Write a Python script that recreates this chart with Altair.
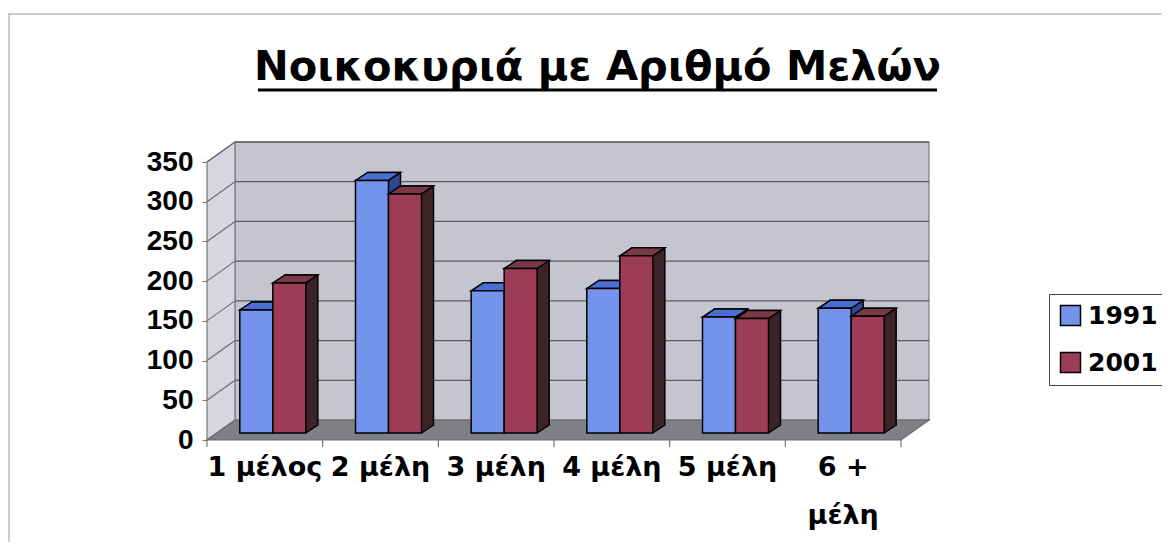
import altair as alt
import pandas as pd

# ---------------- data ----------------
CATS = ["1 μέλος", "2 μέλη", "3 μέλη", "4 μέλη", "5 μέλη", "6 + μέλη"]
YEARS = ["1991", "2001"]
V1991 = [155, 318, 179, 182, 146, 157]
V2001 = [189, 301, 207, 223, 144, 147]
YTICKS = [0, 50, 100, 150, 200, 250, 300, 350]
TITLE = "Νοικοκυριά με Αριθμό Μελών"

# ---------------- geometry / style ----------------
W, H = 694, 278
DX, DY = 28, 20        # depth of the walls (px)
BDX, BDY = 12, 8       # depth of each bar (px)
BASE = 7               # bars stand a bit behind the front edge of the floor
BW = 33                # bar width
SHIFT = 8              # perspective shift of the bar groups
STEP = W / len(CATS)
FONT = "Liberation Sans"
WFONT = "DejaVu Sans"

FRONT = {"1991": "#7394ea", "2001": "#9c3c57"}
TOPC = {"1991": "#4a6fd4", "2001": "#7a3848"}
SIDE = {"1991": "#2f4596", "2001": "#3b2328"}

rows = []
for c, a, b in zip(CATS, V1991, V2001):
    rows.append({"cat": c, "year": "1991", "value": a})
    rows.append({"cat": c, "year": "2001", "value": b})
df = pd.DataFrame(rows)
ticks_df = pd.DataFrame({"tick": YTICKS})
cats_df = pd.DataFrame({"cat": CATS})
one = pd.DataFrame({"t": [TITLE]})

Y_SCALE = alt.Scale(domain=[0, 350], nice=False, zero=True)
YAXIS = alt.Axis(values=YTICKS, title=None, labelFont=FONT, labelFontSize=28,
                 labelFontWeight="bold", labelColor="black", tickColor="#777777",
                 tickSize=5, labelPadding=9, domainColor="#777777", grid=False)
XAXIS = alt.Axis(title=None, labelAngle=0, labelFont=WFONT, labelFontSize=27,
                 labelFontWeight="bold", labelColor="black", ticks=False, domain=False,
                 labelPadding=14, labelLineHeight=48, labelOverlap=False,
                 labelExpr="datum.label == '6 + μέλη' ? ['6 +', 'μέλη'] : datum.label")


def xenc():
    return alt.X("cat:N", sort=CATS,
                 scale=alt.Scale(domain=CATS, paddingInner=0, paddingOuter=0),
                 axis=XAXIS)


def yenc(field="value"):
    return alt.Y(f"{field}:Q", scale=Y_SCALE, axis=YAXIS)


# ---------------- decorations ----------------
border_top = alt.Chart(one).mark_rule(color="#bdbdbd", strokeWidth=1.5).encode(
    x=alt.value(-199), x2=alt.value(963), y=alt.value(-148))
border_left = alt.Chart(one).mark_rule(color="#bdbdbd", strokeWidth=1.5).encode(
    x=alt.value(-198), y=alt.value(-148), y2=alt.value(380))

title = alt.Chart(one).mark_text(font=WFONT, fontSize=41.5, fontWeight="bold",
                                 align="center", baseline="alphabetic",
                                 color="black").encode(
    text="t:N", x=alt.value(390.5), y=alt.value(-82))
underline = alt.Chart(one).mark_rule(color="black", strokeWidth=3).encode(
    x=alt.value(51), x2=alt.value(730), y=alt.value(-72))

back_wall = alt.Chart(one).mark_rect(fill="#c5c5d2", stroke="#7a7a7a",
                                     strokeWidth=1.2).encode(
    x=alt.value(DX), x2=alt.value(W + DX), y=alt.value(-DY), y2=alt.value(H - DY))

LEFT_WALL = f"M0,0 L0,{-H} L{DX},{-H - DY} L{DX},{-DY} Z"
left_wall = alt.Chart(one).mark_point(shape=LEFT_WALL, size=4, filled=True,
                                      fill="#d6d6e2", stroke="#7a7a7a",
                                      strokeWidth=1.2, opacity=1).encode(
    x=alt.value(0), y=alt.value(H))

FLOOR = f"M0,0 L{W},0 L{W + DX},{-DY} L{DX},{-DY} Z"
floor = alt.Chart(one).mark_point(shape=FLOOR, size=4, filled=True,
                                  fill="#7f7f86", stroke="#6a6a6a",
                                  strokeWidth=1.2, opacity=1).encode(
    x=alt.value(0), y=alt.value(H))

grid_back = alt.Chart(ticks_df[ticks_df.tick > 0]).mark_rule(
    color="#5c5c5c", strokeWidth=1.3, yOffset=-DY).encode(
    x=alt.value(DX), x2=alt.value(W + DX), y=yenc("tick"))
grid_left = alt.Chart(ticks_df[ticks_df.tick > 0]).mark_rule(
    color="#6a6a6a", strokeWidth=1.1, y2Offset=-DY).encode(
    x=alt.value(0), x2=alt.value(DX), y=yenc("tick"), y2=alt.Y2("tick:Q"))

xticks = alt.Chart(cats_df).mark_rule(color="#777777", strokeWidth=1.2,
                                      xOffset=-STEP / 2).encode(
    x=xenc(), y=alt.value(H), y2=alt.value(H + 7))
xtick_end = alt.Chart(one).mark_rule(color="#777777", strokeWidth=1.2).encode(
    x=alt.value(W), y=alt.value(H), y2=alt.value(H + 7))

# ---------------- bars (pseudo 3-D) ----------------
TOP_PATH = f"M{-BW / 2},0 L{BW / 2},0 L{BW / 2 + BDX},{-BDY} L{-BW / 2 + BDX},{-BDY} Z"
TRI_PATH = f"M0,0 L0,{-BDY - 1} L{BDX},{-BDY - 1} L{BDX},{-BDY} Z"
DIAG_PATH = f"M0,0 L{BDX},{-BDY}"

LEGEND = alt.Legend(title=None, orient="none", legendX=842, legendY=132,
                    symbolType="square", symbolSize=400, symbolStrokeColor="black",
                    symbolStrokeWidth=1.5, symbolOpacity=1, labelFont=WFONT,
                    labelFontSize=25, labelFontWeight="bold", labelColor="black",
                    strokeColor="#444444", fillColor="white", padding=9,
                    rowPadding=20, labelOffset=5)

bar_layers = []
for y in YEARS:
    sub = alt.Chart(df[df.year == y])
    xo = SHIFT + (-BW / 2 if y == "1991" else BW / 2)
    side = sub.mark_bar(width=BW, xOffset=xo + BDX, yOffset=-BASE - BDY,
                        y2Offset=-BASE - BDY, fill=SIDE[y], stroke="black",
                        strokeWidth=1.5).encode(x=xenc(), y=yenc(), y2=alt.datum(0))
    tri = sub.mark_point(shape=TRI_PATH, size=4, filled=True, fill=SIDE[y],
                         strokeOpacity=0, opacity=1, xOffset=xo + BW / 2,
                         yOffset=-BASE).encode(x=xenc(), y=alt.value(H))
    diag = sub.mark_point(shape=DIAG_PATH, size=4, filled=False, stroke="black",
                          strokeWidth=1.5, opacity=1, xOffset=xo + BW / 2,
                          yOffset=-BASE).encode(x=xenc(), y=alt.value(H))
    top = sub.mark_point(shape=TOP_PATH, size=4, filled=True, fill=TOPC[y],
                         stroke="black", strokeWidth=1.5, opacity=1, xOffset=xo,
                         yOffset=-BASE).encode(x=xenc(), y=yenc())
    front = sub.mark_bar(width=BW, xOffset=xo, yOffset=-BASE, y2Offset=-BASE,
                         stroke="black", strokeWidth=1.5, opacity=1).encode(
        x=xenc(), y=yenc(), y2=alt.datum(0),
        color=alt.Color("year:N", scale=alt.Scale(domain=YEARS,
                                                  range=[FRONT[k] for k in YEARS]),
                        legend=LEGEND))
    bar_layers += [side, tri, diag, top, front]

chart = alt.layer(
    border_top, border_left, title, underline,
    back_wall, grid_back, left_wall, grid_left, floor, xticks, xtick_end,
    *bar_layers,
).properties(
    width=W, height=H,
    autosize=alt.AutoSizeParams(type="none"),
    padding={"left": 199, "top": 154, "right": 261, "bottom": 102},
).configure_view(stroke=None)

chart.save("out.html", embed_options={"renderer": "svg", "actions": False})
